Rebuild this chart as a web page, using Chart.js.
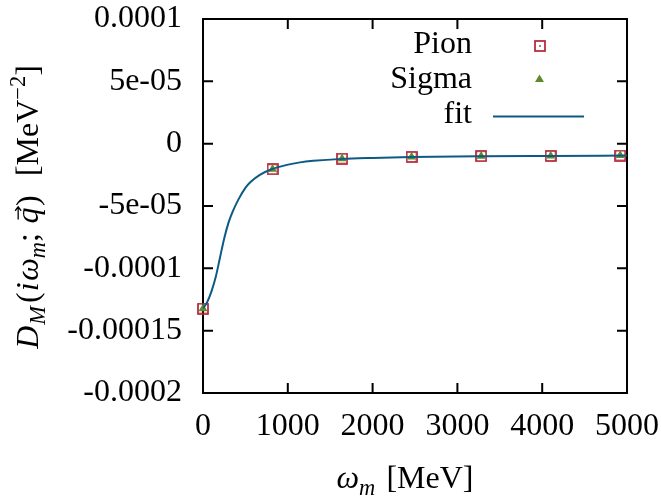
<!DOCTYPE html>
<html lang="en">
<head>
<meta charset="UTF-8" />
<title>Meson propagator vs Matsubara frequency</title>
<script src="https://cdn.jsdelivr.net/npm/chart.js@4.4.0/dist/chart.umd.min.js"></script>
<style>
  html, body { margin: 0; padding: 0; background: #fff; }
  #wrap { width: 661px; height: 502px; }
</style>
</head>
<body>
<div id="wrap"><canvas id="propChart" width="661" height="502"></canvas></div>
<script>
// Matsubara frequencies (MeV) and lattice values of D_M
const omegaM = [0, 820, 1640, 2460, 3280, 4100, 4920];
const pionD  = [-1.323e-4, -2.05e-5, -1.20e-5, -1.06e-5, -1.00e-5, -0.98e-5, -0.95e-5];
const sigmaD = [-1.323e-4, -2.05e-5, -1.20e-5, -1.06e-5, -1.00e-5, -0.98e-5, -0.95e-5];

// fitted curve, sampled
const fitOmega = [0, 50, 100, 150, 200, 250, 300, 350, 420, 500, 560, 670, 810, 990, 1145, 1300, 1640, 2000, 2460, 3280, 4100, 5000];
const fitD = [-1.32e-4, -1.27e-4, -1.185e-4, -1.07e-4, -0.915e-4, -0.76e-4, -0.635e-4, -0.545e-4, -0.445e-4, -0.355e-4,
              -3.08e-5, -2.5e-5, -2.05e-5, -1.7e-5, -1.5e-5, -1.38e-5, -1.22e-5, -1.14e-5, -1.07e-5, -1.01e-5, -0.98e-5, -0.95e-5];

const xTicks = [0, 1000, 2000, 3000, 4000, 5000];
const yTicks = [0.0001, 0.00005, 0, -0.00005, -0.0001, -0.00015, -0.0002];
const yTickLabels = ["0.0001", "5e-05", "0", "-5e-05", "-0.0001", "-0.00015", "-0.0002"];

const SERIF = "'Liberation Serif', 'DejaVu Serif', serif";
const FS = 32;
const pionColor = "#b22234";
const sigmaColor = "#5f8a2a";
const fitColor = "#0d5a84";

// open square with a centre dot
function boxedDot(size) {
  const c = document.createElement("canvas");
  c.width = size; c.height = size;
  const g = c.getContext("2d");
  g.strokeStyle = pionColor;
  g.lineWidth = 1.7;
  g.strokeRect(1, 1, size - 2, size - 2);
  g.fillStyle = pionColor;
  g.fillRect(size / 2 - 0.8, size / 2 - 0.8, 1.6, 1.6);
  return c;
}
const pionMarker = boxedDot(12);

// text with italics, sub/superscripts
function drawRich(ctx, parts, x, y, size) {
  const items = parts.map(p => {
    const s = (p.sub || p.sup) ? size * 0.7 : size;
    const font = (p.it ? "italic " : "") + s + "px " + SERIF;
    ctx.font = font;
    const w = ctx.measureText(p.t).width + (p.gap || 0) * size;
    return { p, s, font, w };
  });
  const total = items.reduce((a, b) => a + b.w, 0);
  let cx = x - total / 2;
  ctx.textAlign = "left";
  ctx.textBaseline = "alphabetic";
  items.forEach(({ p, s, font, w }) => {
    ctx.font = font;
    const dy = p.sub ? size * 0.22 : p.sup ? -size * 0.4 : 0;
    ctx.fillText(p.t, cx, y + dy);
    if (p.vec) {
      const gw = ctx.measureText(p.t).width;
      const ay = y - size * 0.62;
      const x0 = cx + gw * 0.25, x1 = cx + gw * 1.05;
      ctx.save();
      ctx.lineWidth = 1.3;
      ctx.strokeStyle = "#000";
      ctx.beginPath();
      ctx.moveTo(x0, ay); ctx.lineTo(x1, ay);
      ctx.moveTo(x1 - 4, ay - 3); ctx.lineTo(x1, ay); ctx.lineTo(x1 - 4, ay + 3);
      ctx.stroke();
      ctx.restore();
    }
    cx += w;
  });
}

const framePlugin = {
  id: "frame",
  beforeDatasetsDraw(chart) {
    const { ctx, chartArea: a, scales } = chart;
    ctx.save();
    ctx.strokeStyle = "#000";
    ctx.lineWidth = 2;
    ctx.strokeRect(a.left, a.top, a.right - a.left, a.bottom - a.top);
    ctx.beginPath();
    xTicks.forEach(v => {
      const px = scales.x.getPixelForValue(v);
      ctx.moveTo(px, a.bottom); ctx.lineTo(px, a.bottom - 10);
      ctx.moveTo(px, a.top); ctx.lineTo(px, a.top + 10);
    });
    yTicks.forEach(v => {
      const py = scales.y.getPixelForValue(v);
      ctx.moveTo(a.left, py); ctx.lineTo(a.left + 10, py);
      ctx.moveTo(a.right, py); ctx.lineTo(a.right - 10, py);
    });
    ctx.stroke();
    ctx.restore();
  },
  afterDraw(chart) {
    const { ctx, chartArea: a } = chart;
    ctx.save();
    ctx.fillStyle = "#000";

    // x axis title
    drawRich(ctx, [
      { t: "\u03c9", it: true },
      { t: "m", it: true, sub: true, gap: 0.35 },
      { t: "[MeV]" }
    ], (a.left + a.right) / 2 - 10, 488, FS);

    // y axis title
    ctx.save();
    ctx.translate(38, 207);
    ctx.rotate(-Math.PI / 2);
    drawRich(ctx, [
      { t: "D", it: true, gap: 0.03 },
      { t: "M", it: true, sub: true, gap: 0.1 },
      { t: "(", gap: 0.03 },
      { t: "i", it: true, gap: 0.05 },
      { t: "\u03c9", it: true },
      { t: "m", it: true, sub: true },
      { t: ";", gap: 0.3 },
      { t: "q", it: true, vec: true, gap: 0.05 },
      { t: ")", gap: 0.6 },
      { t: "[MeV" },
      { t: "\u22122", sup: true },
      { t: "]" }
    ], 0, 0, FS);
    ctx.restore();

    // key
    ctx.font = FS + "px " + SERIF;
    ctx.textAlign = "right";
    ctx.textBaseline = "middle";
    ctx.fillText("Pion", 472, 45);
    ctx.fillText("Sigma", 472, 80);
    ctx.fillText("fit", 472, 115);
    ctx.drawImage(pionMarker, 534, 40);
    ctx.fillStyle = sigmaColor;
    ctx.beginPath();
    ctx.moveTo(539.5, 74.5); ctx.lineTo(544, 82); ctx.lineTo(535, 82);
    ctx.closePath(); ctx.fill();
    ctx.strokeStyle = fitColor;
    ctx.lineWidth = 2;
    ctx.beginPath();
    ctx.moveTo(493, 116.5); ctx.lineTo(584, 116.5);
    ctx.stroke();
    ctx.restore();
  }
};

new Chart(document.getElementById("propChart"), {
  type: "scatter",
  data: {
    datasets: [
      {
        label: "fit",
        type: "line",
        data: fitOmega.map((x, i) => ({ x, y: fitD[i] })),
        borderColor: fitColor,
        borderWidth: 2,
        pointRadius: 0,
        cubicInterpolationMode: "monotone",
        fill: false,
        order: 0
      },
      {
        label: "Sigma",
        data: omegaM.map((x, i) => ({ x, y: sigmaD[i] })),
        pointStyle: "triangle",
        pointRadius: 5.2,
        backgroundColor: sigmaColor,
        borderWidth: 0,
        clip: false,
        order: 1
      },
      {
        label: "Pion",
        data: omegaM.map((x, i) => ({ x, y: pionD[i] })),
        pointStyle: pionMarker,
        clip: false,
        order: 2
      }
    ]
  },
  options: {
    responsive: false,
    animation: false,
    layout: { padding: { top: 19, right: 34, left: 0, bottom: 0 } },
    plugins: { legend: { display: false }, tooltip: { enabled: false } },
    scales: {
      x: {
        type: "linear",
        min: 0, max: 5000,
        afterBuildTicks: s => { s.ticks = xTicks.map(v => ({ value: v })); },
        afterFit: s => { s.height = 109; s.paddingLeft = 0; s.paddingRight = 0; },
        grid: { display: false, drawTicks: false, tickLength: 0 },
        border: { display: false },
        ticks: {
          color: "#000",
          font: { family: SERIF, size: FS },
          padding: 14,
          maxRotation: 0,
          callback: v => String(v)
        }
      },
      y: {
        min: -0.0002, max: 0.0001,
        afterBuildTicks: s => { s.ticks = yTicks.map(v => ({ value: v })); },
        afterFit: s => { s.width = 203; s.paddingTop = 0; s.paddingBottom = 0; },
        grid: { display: false, drawTicks: false, tickLength: 0 },
        border: { display: false },
        ticks: {
          color: "#000",
          font: { family: SERIF, size: FS },
          padding: 21,
          callback: (v, i) => yTickLabels[i]
        }
      }
    }
  },
  plugins: [framePlugin]
});
</script>
</body>
</html>
